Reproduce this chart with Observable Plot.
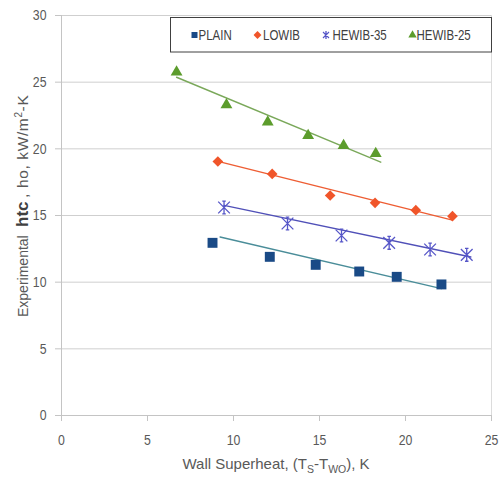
<!DOCTYPE html>
<html>
<head>
<meta charset="utf-8">
<script src="https://cdn.jsdelivr.net/npm/d3@7"></script>
<script src="https://cdn.jsdelivr.net/npm/@observablehq/plot@0.6"></script>
<style>
  html, body { margin: 0; padding: 0; background: #fff; }
  #chart { width: 499px; height: 477px; }
</style>
</head>
<body>
<div id="chart"></div>
<script>
// ---- data ----
const seriesNames = ["PLAIN", "LOWIB", "HEWIB-35", "HEWIB-25"];

const plainX   = [8.78, 12.11, 14.78, 17.31, 19.49, 22.09];
const plainY   = [12.95, 11.9, 11.3, 10.8, 10.4, 9.83];
const lowibX   = [9.09, 12.25, 15.62, 18.23, 20.6, 22.73];
const lowibY   = [19.05, 18.12, 16.5, 15.95, 15.4, 14.95];
const hewib35X = [9.45, 13.14, 16.28, 19.05, 21.43, 23.56];
const hewib35Y = [15.6, 14.4, 13.5, 12.95, 12.45, 12.05];
const hewib25X = [6.69, 9.59, 11.99, 14.34, 16.4, 18.27];
const hewib25Y = [25.75, 23.3, 22.0, 21.0, 20.25, 19.65];

// trend-line end points (x start, x end) and (y start, y end)
const plainTrendX   = [9.22, 22.09];
const plainTrendY   = [13.39, 9.52];
const lowibTrendX   = [9.1, 22.73];
const lowibTrendY   = [19.06, 14.65];
const hewib35TrendX = [9.45, 23.8];
const hewib35TrendY = [15.76, 11.89];
const hewib25TrendX = [6.69, 18.56];
const hewib25TrendY = [25.37, 19.0];

const xTicks = [0, 5, 10, 15, 20, 25];
const yTicks = [0, 5, 10, 15, 20, 25, 30];
const gridTicks = [5, 10, 15, 20, 25, 30];

// ---- build tables ----
const xs = [plainX, lowibX, hewib35X, hewib25X];
const ys = [plainY, lowibY, hewib35Y, hewib25Y];
const txs = [plainTrendX, lowibTrendX, hewib35TrendX, hewib25TrendX];
const tys = [plainTrendY, lowibTrendY, hewib35TrendY, hewib25TrendY];
const points = [];
const trends = [];
seriesNames.forEach((s, i) => {
  xs[i].forEach((x, j) => points.push({series: s, x, y: ys[i][j]}));
  txs[i].forEach((x, j) => trends.push({series: s, x, y: tys[i][j]}));
});

const markerColor = {"PLAIN": "#1a4a86", "LOWIB": "#f0552a", "HEWIB-35": "#5656c8", "HEWIB-25": "#5c9c2c"};
const lineColor = {"PLAIN": "#4a8d99", "LOWIB": "#ee5d33", "HEWIB-35": "#5050b8", "HEWIB-25": "#7aa85a"};

const asterisk = {
  draw(ctx, size) {
    const r = Math.sqrt(size) * 0.55;
    ctx.moveTo(-r, -r); ctx.lineTo(r, r);
    ctx.moveTo(-r, r); ctx.lineTo(r, -r);
    ctx.moveTo(0, -r * 1.1); ctx.lineTo(0, r * 1.1);
    ctx.moveTo(-r * 0.3, -r * 1.1); ctx.lineTo(r * 0.3, -r * 1.1);
    ctx.moveTo(-r * 0.3, r * 1.1); ctx.lineTo(r * 0.3, r * 1.1);
  }
};

const sel = s => d => d.series === s;
const font = "'Liberation Sans', Arial, sans-serif";

const chart = Plot.plot({
  width: 499,
  height: 477,
  marginLeft: 61,
  marginRight: 8,
  marginTop: 15,
  marginBottom: 62,
  style: {fontFamily: font, fontSize: "15px", background: "#fff"},
  x: {domain: [0, 25], axis: null},
  y: {domain: [0, 30], axis: null},
  marks: [
    Plot.ruleY(gridTicks, {stroke: "#cfcfcf", strokeWidth: 1, x1: 0, x2: 25}),
    Plot.ruleX([25], {stroke: "#dcdcdc", y1: 0, y2: 30}),
    Plot.ruleX([0], {stroke: "#c4c4c4", y1: 0, y2: 30}),
    Plot.ruleY([0], {stroke: "#c4c4c4", x1: 0, x2: 25}),
    Plot.axisX({ticks: xTicks, tickSize: 6, tickPadding: 13, stroke: "#c4c4c4", fill: "#595959", fontSize: 15, label: null, tickFormat: d3.format("d")}),
    Plot.axisY({ticks: yTicks, tickSize: 6, tickPadding: 9, stroke: "#c4c4c4", fill: "#595959", fontSize: 15, label: null, tickFormat: d3.format("d")}),
    ...seriesNames.map(s => Plot.line(trends.filter(sel(s)), {x: "x", y: "y", stroke: lineColor[s], strokeWidth: 1.4})),
    Plot.dot(points.filter(sel("PLAIN")), {x: "x", y: "y", symbol: "square", r: 5.6, fill: markerColor["PLAIN"]}),
    Plot.dot(points.filter(sel("LOWIB")), {x: "x", y: "y", symbol: "diamond2", r: 4.8, fill: markerColor["LOWIB"], stroke: "none"}),
    Plot.dot(points.filter(sel("HEWIB-35")), {x: "x", y: "y", symbol: asterisk, r: 6, fill: "none", stroke: markerColor["HEWIB-35"], strokeWidth: 1.3}),
    Plot.dot(points.filter(sel("HEWIB-25")), {x: "x", y: "y", symbol: "triangle", r: 4.4, fill: markerColor["HEWIB-25"]})
  ]
});

document.getElementById("chart").appendChild(chart);

// condense text horizontally (the reference uses a narrow face)
function condense(node, factor, adjust) {
  const w = node.getComputedTextLength();
  node.setAttribute("textLength", (w * factor).toFixed(2));
  node.setAttribute("lengthAdjust", adjust || "spacingAndGlyphs");
}
chart.querySelectorAll("text").forEach(t => condense(t, 0.82));

// ---- titles and legend (text overlays) ----
const svg = d3.select(chart);

// Y title (rotated frame: u = -y, baseline at x = 28)
const ytg = svg.append("g").attr("transform", "translate(28,0) rotate(-90)")
  .attr("fill", "#595959");
ytg.append("text").attr("x", -317).attr("y", 0).attr("text-anchor", "start")
  .style("font-family", font).style("font-size", "14px")
  .text("Experimental");
ytg.append("text").attr("x", -227).attr("y", 0).attr("text-anchor", "start")
  .attr("fill", "#404040")
  .style("font-family", font).style("font-size", "17px").style("font-weight", "bold")
  .text("htc");
const yrest = ytg.append("text").attr("x", -198).attr("y", 0).attr("text-anchor", "start")
  .style("font-family", font).style("font-size", "15.5px");
yrest.append("tspan").text(", ho, kW/m");
yrest.append("tspan").text("2").style("font-size", "10px").attr("dy", "-6");
yrest.append("tspan").text("-K").attr("dy", "6");
condense(yrest.node(), 1.08, "spacing");

// X title
const xt = svg.append("text")
  .attr("x", 276).attr("y", 469)
  .attr("text-anchor", "middle")
  .attr("fill", "#595959")
  .style("font-family", font)
  .style("font-size", "15px");
xt.append("tspan").text("Wall Superheat, (T");
xt.append("tspan").text("S").style("font-size", "10.5px").attr("dy", "4");
xt.append("tspan").text("-T").attr("dy", "-4");
xt.append("tspan").text("WO").style("font-size", "10.5px").attr("dy", "4");
xt.append("tspan").text("), K").attr("dy", "-4");

// Legend
const lg = svg.append("g");
lg.append("rect").attr("x", 170.5).attr("y", 17.5).attr("width", 321).attr("height", 34.5)
  .attr("fill", "#fff").attr("stroke", "#404040").attr("stroke-width", 1);
const legendItems = [
  {s: "PLAIN", mx: 194.5, tx: 198.5, sym: d3.symbolSquare, size: 36},
  {s: "LOWIB", mx: 257.5, tx: 263, sym: d3.symbolDiamond2, size: 40},
  {s: "HEWIB-35", mx: 326, tx: 332.5, sym: asterisk, size: 30},
  {s: "HEWIB-25", mx: 412.5, tx: 416.5, sym: d3.symbolTriangle, size: 30}
];
legendItems.forEach(it => {
  const isStroke = it.sym === asterisk;
  lg.append("path")
    .attr("transform", `translate(${it.mx},35)`)
    .attr("d", d3.symbol(it.sym, it.size)())
    .attr("fill", isStroke ? "none" : markerColor[it.s])
    .attr("stroke", isStroke ? markerColor[it.s] : "none")
    .attr("stroke-width", 1.1);
  const t = lg.append("text")
    .attr("x", it.tx).attr("y", 35)
    .attr("text-anchor", "start")
    .attr("dominant-baseline", "central")
    .attr("fill", "#404040")
    .style("font-family", font)
    .style("font-size", "14px")
    .text(it.s);
  condense(t.node(), 0.82);
});
</script>
</body>
</html>
